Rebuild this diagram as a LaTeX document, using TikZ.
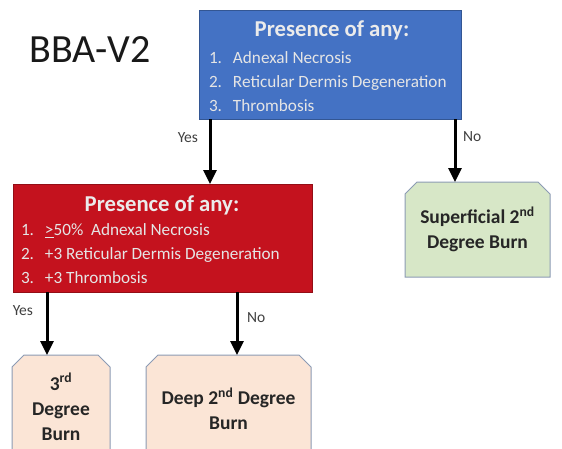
\documentclass[tikz,border=0pt]{standalone}
\usepackage{fontspec}
\setmainfont{Carlito}
\usetikzlibrary{arrows.meta, shapes.misc, positioning}

\definecolor{condblue}{RGB}{68,114,196}
\definecolor{condred}{RGB}{196,18,30}
\definecolor{leafgreen}{RGB}{215,231,199}
\definecolor{leafpeach}{RGB}{251,229,214}
\definecolor{leafedge}{RGB}{140,155,180}

\begin{document}
\begin{tikzpicture}[
        x=1pt, y=-1pt, >={Triangle[width=13pt,length=14pt]},
        every node/.style={inner sep=0pt, outer sep=0pt},
        cond/.style={rectangle, draw=#1!75!black, fill=#1, line width=0.8pt},
        head/.style={text=white!92!black, font=\fontsize{22.7}{26}\bfseries\selectfont},
        items/.style={text=white!90!black, align=left, anchor=west,
                      font=\fontsize{17.2}{24}\selectfont},
        leaf/.style={chamfered rectangle, chamfered rectangle corners={north west, north east},
                     chamfered rectangle xsep=5.5pt, chamfered rectangle ysep=6.5pt,
                     draw=leafedge, line width=1pt, fill=#1, align=center,
                     font=\fontsize{19.5}{25}\bfseries\selectfont, text=black!85},
        answer/.style={text=black!75, font=\fontsize{15.5}{18}\selectfont},
        flow/.style={->, line width=3pt}
        ]
        \clip (0,0) rectangle (562,448);

        \node[font=\fontsize{40}{44}\selectfont, text=black!90] (title) at (90,50) {BBA-V2};

        % first question
        \node[cond=condblue, minimum width=262pt, minimum height=109pt] (q_1) at (330,64.5) {};
        \node[head] (q_1h) at (332,30) {Presence of any:};
        \node[items] (q_1l) at (209,82) {\makebox[24pt][l]{1.}Adnexal Necrosis\\
                \makebox[24pt][l]{2.}Reticular Dermis Degeneration\\
                \makebox[24pt][l]{3.}Thrombosis};

        % second question
        \node[cond=condred, minimum width=299pt, minimum height=108pt] (q_2) at (162.5,238) {};
        \node[head] (q_2h) at (162,205) {Presence of any:};
        \node[items] (q_2l) at (21,254) {\makebox[24pt][l]{1.}\underline{>}50\%\ \ Adnexal Necrosis\\
                \makebox[24pt][l]{2.}+3 Reticular Dermis Degeneration\\
                \makebox[24pt][l]{3.}+3 Thrombosis};

        % outcomes
        \node[leaf=leafgreen, minimum width=145pt, minimum height=95pt] (sup) at (477.5,229.5)
                {Superficial 2\textsuperscript{nd}\\Degree Burn};
        \node[leaf=leafpeach, minimum width=98pt, minimum height=104pt] (third) at (61,407)
                {3\textsuperscript{rd}\\Degree\\Burn};
        \node[leaf=leafpeach, minimum width=165pt, minimum height=108pt] (deep) at (228.5,409)
                {Deep 2\textsuperscript{nd} Degree\\Burn};

        % connectors
        \draw[flow] (q_1.south -| 210,0) -- (q_2.north -| 210,0)
                node[answer, pos=0.28, left=12pt] (y_1) {Yes};
        \draw[flow] (q_1.south -| 455,0) -- (sup.north -| 455,0)
                node[answer, pos=0.28, right=8pt] (n_1) {No};
        \draw[flow] (q_2.south -| 47,0) -- (third.north -| 47,0)
                node[answer, pos=0.3, left=14pt] (y_2) {Yes};
        \draw[flow] (q_2.south -| 237,0) -- (deep.north -| 237,0)
                node[answer, pos=0.4, right=10pt] (n_2) {No};
\end{tikzpicture}
\end{document}
